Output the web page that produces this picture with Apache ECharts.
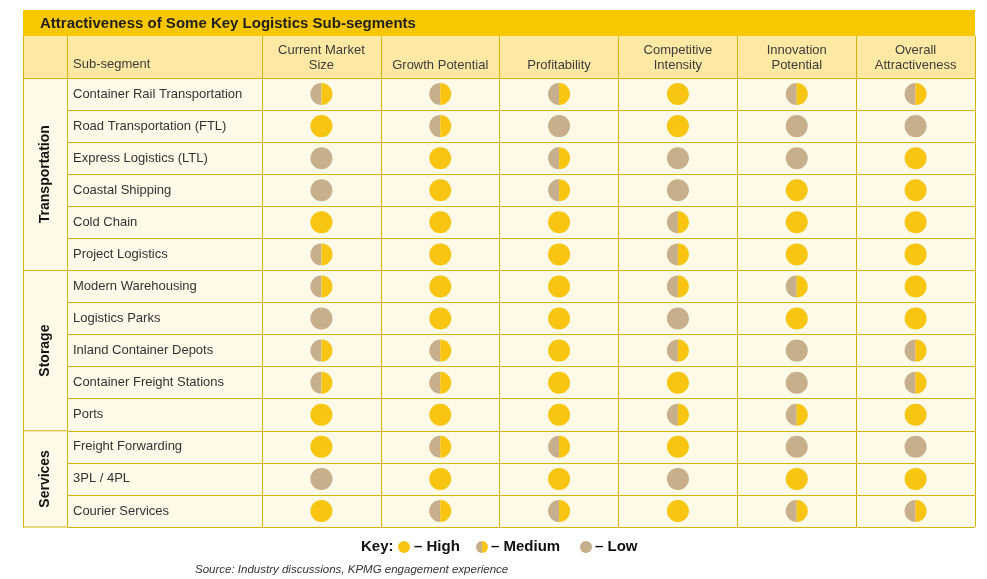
<!DOCTYPE html>
<html>
<head>
<meta charset="utf-8">
<script src="https://cdn.jsdelivr.net/npm/echarts@6/dist/echarts.min.js"></script>
<style>
html,body{margin:0;padding:0;background:#fff;}
#chart{width:987px;height:579px;}
</style>
</head>
<body>
<div id="chart"></div>
<script>
// ---------- data ----------
const titleText = 'Attractiveness of Some Key Logistics Sub-segments';
const subSegmentHeader = 'Sub-segment';
const columns = ['Current Market\nSize', 'Growth Potential', 'Profitability', 'Competitive\nIntensity', 'Innovation\nPotential', 'Overall\nAttractiveness'];
const subSegments = ['Container Rail Transportation', 'Road Transportation (FTL)', 'Express Logistics (LTL)', 'Coastal Shipping', 'Cold Chain', 'Project Logistics', 'Modern Warehousing', 'Logistics Parks', 'Inland Container Depots', 'Container Freight Stations', 'Ports', 'Freight Forwarding', '3PL / 4PL', 'Courier Services'];
const groups = ['Transportation', 'Storage', 'Services'];
const groupSizes = [6, 5, 3];
// H = High, M = Medium, L = Low
const currentMarketSize     = ['M','H','L','L','H','M','M','L','M','M','H','H','L','H'];
const growthPotential       = ['M','M','H','H','H','H','H','H','M','M','H','M','H','M'];
const profitability         = ['M','L','M','M','H','H','H','H','H','H','H','M','H','M'];
const competitiveIntensity  = ['H','H','L','L','M','M','M','L','M','H','M','H','L','H'];
const innovationPotential   = ['M','L','L','H','H','H','M','H','L','L','M','L','H','M'];
const overallAttractiveness = ['M','L','H','H','H','H','H','H','M','M','H','L','H','M'];
const keyLabels = ['– High', '– Medium', '– Low'];
const sourceText = 'Source: Industry discussions, KPMG engagement experience';

// ---------- styles ----------
const FONT = '"Liberation Sans", Arial, sans-serif';
const YELLOW = '#F8C512';
const TAN = '#C6AF8A';
const LINE = '#D6B50A';
const BODY_BG = '#FEFAE7';
const HEADER_BG = '#FDE9A4';
const BAND = '#F8C700';

const ratingColumns = [currentMarketSize, growthPotential, profitability, competitiveIntensity, innovationPotential, overallAttractiveness];
const levelCode = {L: 0, M: 1, H: 2};
const ratingData = [];
ratingColumns.forEach((col, c) => col.forEach((v, r) => ratingData.push([c, r, levelCode[v]])));

const groupData = [];
let start = 0;
groups.forEach((g, i) => { groupData.push({name: g, value: [0, start, start + groupSizes[i] - 1]}); start += groupSizes[i]; });

function drawDot(cx, cy, r, level) {
  if (level === 1) {
    return {type: 'group', children: [
      {type: 'sector', shape: {cx, cy, r, r0: 0, startAngle: Math.PI / 2, endAngle: Math.PI * 1.5, clockwise: true}, style: {fill: TAN}},
      {type: 'sector', shape: {cx, cy, r, r0: 0, startAngle: -Math.PI / 2, endAngle: Math.PI / 2, clockwise: true}, style: {fill: YELLOW}}
    ]};
  }
  return {type: 'circle', shape: {cx, cy, r}, style: {fill: level === 2 ? YELLOW : TAN}};
}

const TOP = 78, H = 449, HEADER_H = 42;
const chart = echarts.init(document.getElementById('chart'), null, {renderer: 'canvas'});

const lineStyle = {color: LINE, width: 1};

chart.setOption({
  animation: false,
  backgroundColor: '#ffffff',
  title: {
    text: titleText, left: 35, top: 11,
    textStyle: {fontFamily: FONT, fontSize: 15, fontWeight: 'bold', color: '#1f1f1f'}
  },
  grid: [
    {left: 67, top: TOP, width: 195, height: H, show: true, backgroundColor: BODY_BG, borderWidth: 0},
    {left: 262, top: TOP, width: 713, height: H, show: true, backgroundColor: BODY_BG, borderWidth: 0},
    {left: 23, top: TOP, width: 44, height: H, show: true, backgroundColor: BODY_BG, borderWidth: 0}
  ],
  xAxis: [
    {gridIndex: 0, type: 'category', data: [subSegmentHeader], position: 'top',
     axisLine: {show: true, lineStyle}, axisTick: {show: true, length: HEADER_H, interval: 0, lineStyle},
     axisLabel: {show: false}, splitLine: {show: true, interval: 0, lineStyle}},
    {gridIndex: 1, type: 'category', data: columns, position: 'top',
     axisLine: {show: true, lineStyle}, axisTick: {show: true, length: HEADER_H, interval: 0, lineStyle},
     axisLabel: {show: true, interval: 0, margin: 5, fontFamily: FONT, fontSize: 13, lineHeight: 15, color: '#3c3c3c'},
     splitLine: {show: true, interval: 0, lineStyle}},
    {gridIndex: 2, type: 'category', data: [''], position: 'top',
     axisLine: {show: true, lineStyle}, axisTick: {show: true, length: HEADER_H, interval: 0, lineStyle},
     axisLabel: {show: false}, splitLine: {show: true, interval: 0, lineStyle}}
  ],
  yAxis: [
    {gridIndex: 0, type: 'category', data: subSegments, inverse: true,
     axisLine: {show: true, lineStyle}, axisTick: {show: false},
     axisLabel: {show: true, interval: 0, align: 'left', margin: -6, padding: [3, 0, 0, 0], fontFamily: FONT, fontSize: 13, color: '#333'},
     splitLine: {show: true, interval: 0, lineStyle}},
    {gridIndex: 1, type: 'category', data: subSegments, inverse: true,
     axisLine: {show: true, lineStyle}, axisTick: {show: false}, axisLabel: {show: false},
     splitLine: {show: true, interval: 0, lineStyle}},
    {gridIndex: 2, type: 'category', data: subSegments, inverse: true,
     axisLine: {show: true, lineStyle}, axisTick: {show: false}, axisLabel: {show: false},
     splitLine: {show: false}}
  ],
  series: [
    {
      type: 'custom', xAxisIndex: 1, yAxisIndex: 1, data: ratingData, z: 5,
      renderItem: function (params, api) {
        const p = api.coord([api.value(0), api.value(1)]);
        return drawDot(p[0], p[1], 11, api.value(2));
      }
    },
    {
      type: 'custom', xAxisIndex: 2, yAxisIndex: 2, data: groupData, z: 5,
      renderItem: function (params, api) {
        const rowH = api.size([0, 1])[1];
        const colW = api.size([1, 0])[0];
        const a = api.coord([0, api.value(1)]);
        const b = api.coord([0, api.value(2)]);
        const top = a[1] - rowH / 2, bottom = b[1] + rowH / 2;
        const cx = a[0];
        return {type: 'group', children: [
          {type: 'line', shape: {x1: cx - colW / 2, y1: bottom, x2: cx + colW / 2, y2: bottom}, style: {stroke: LINE, lineWidth: 1}},
          {type: 'text', x: cx, y: (top + bottom) / 2, rotation: Math.PI / 2,
           style: {text: groupData[params.dataIndex].name, align: 'center', verticalAlign: 'middle',
                   font: 'bold 14px ' + FONT, fill: '#111'}}
        ]};
      }
    }
  ],
  graphic: [
    {type: 'rect', z: -10, shape: {x: 23, y: 10, width: 952, height: 26}, style: {fill: BAND}},
    {type: 'rect', z: -10, shape: {x: 23, y: 36, width: 952, height: 42}, style: {fill: HEADER_BG}},
    {type: 'text', x: 73, y: 64, style: {text: subSegmentHeader, align: 'left', verticalAlign: 'middle', font: '13px ' + FONT, fill: '#3c3c3c'}},
    // Key
    {type: 'text', x: 361, y: 547, style: {text: 'Key:', align: 'left', verticalAlign: 'middle', font: 'bold 15px ' + FONT, fill: '#111'}},
    {type: 'circle', shape: {cx: 404, cy: 547, r: 6}, style: {fill: YELLOW}},
    {type: 'text', x: 414, y: 547, style: {text: keyLabels[0], align: 'left', verticalAlign: 'middle', font: 'bold 15px ' + FONT, fill: '#111'}},
    {type: 'sector', shape: {cx: 482, cy: 547, r: 6, r0: 0, startAngle: Math.PI / 2, endAngle: Math.PI * 1.5, clockwise: true}, style: {fill: TAN}},
    {type: 'sector', shape: {cx: 482, cy: 547, r: 6, r0: 0, startAngle: -Math.PI / 2, endAngle: Math.PI / 2, clockwise: true}, style: {fill: YELLOW}},
    {type: 'text', x: 491, y: 547, style: {text: keyLabels[1], align: 'left', verticalAlign: 'middle', font: 'bold 15px ' + FONT, fill: '#111'}},
    {type: 'circle', shape: {cx: 586, cy: 547, r: 6}, style: {fill: TAN}},
    {type: 'text', x: 595, y: 547, style: {text: keyLabels[2], align: 'left', verticalAlign: 'middle', font: 'bold 15px ' + FONT, fill: '#111'}},
    {type: 'text', x: 195, y: 570, style: {text: sourceText, align: 'left', verticalAlign: 'middle', font: 'italic 11.5px ' + FONT, fill: '#333'}}
  ]
});
</script>
</body>
</html>
